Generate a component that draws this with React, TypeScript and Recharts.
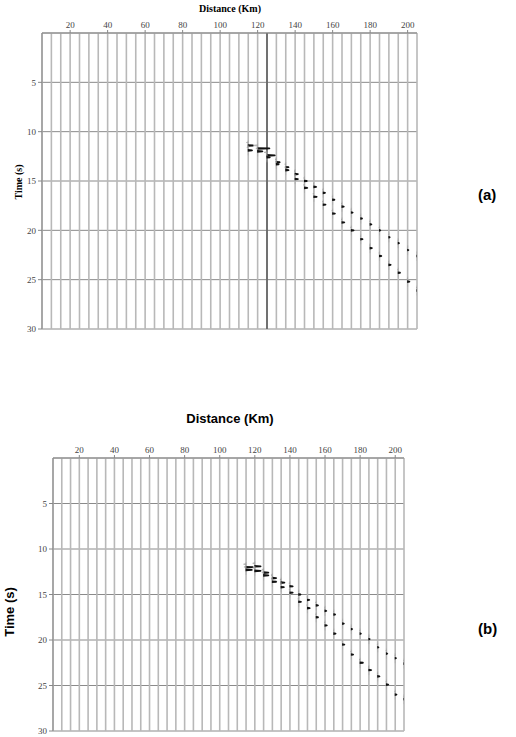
import React from "react";
import {
  ScatterChart,
  Scatter,
  XAxis,
  YAxis,
  CartesianGrid,
  ReferenceLine,
} from "recharts";

// trace offsets (km) where arrivals were picked
const distanceKm = [115, 120, 125, 130, 135, 140, 145, 150, 155, 160, 165, 170, 175, 180, 185, 190, 195, 200, 205];

// panel (a): two arrival branches, time (s) and wiggle amplitude (px)
const aFirstTime = [11.4, 11.7, 12.4, 13.1, 13.6, 14.3, 15.0, 15.6, 16.2, 16.9, 17.6, 18.2, 18.8, 19.4, 20.0, 20.7, 21.3, 22.0, 22.6];
const aSecondTime = [11.9, 12.0, 12.6, 13.3, 13.9, 14.8, 15.7, 16.6, 17.4, 18.3, 19.2, 20.0, 20.9, 21.8, 22.6, 23.5, 24.3, 25.2, 26.1];
const aFirstAmp = [5, 12, 8, 3.5, 3, 3, 2.5, 2.5, 2, 2, 2, 1.5, 1.5, 1.5, 1, 1, 1, 1, 1];
const aSecondAmp = [4, 5, 3, 2.5, 3, 3, 3, 3, 2.5, 2.5, 2.5, 2.5, 2, 2, 2, 2, 2, 2, 2.5];

// panel (b)
const bFirstTime = [12.0, 11.9, 12.6, 13.2, 13.7, 14.1, 15.0, 15.6, 16.2, 16.8, 17.2, 18.2, 18.8, 19.3, 19.9, 20.8, 21.5, 22.0, 22.6];
const bSecondTime = [12.3, 12.4, 12.9, 13.6, 14.2, 14.8, 15.8, 16.5, 17.5, 18.4, 19.3, 20.5, 21.6, 22.5, 23.3, 24.0, 24.9, 26.0, 26.5];
const bFirstAmp = [7, 6, 5, 4, 3.5, 3, 2, 2, 2, 1.5, 1.5, 1.5, 1, 1, 1, 1, 1, 1, 1];
const bSecondAmp = [6, 6, 5, 4, 3, 3, 2.5, 2.5, 2, 2, 2, 2, 2, 3, 2.5, 2, 2, 1.5, 1];

const xTicks = [20, 40, 60, 80, 100, 120, 140, 160, 180, 200];
const yTicks = [5, 10, 15, 20, 25, 30];
const gridKm = [5, 10, 15, 20, 25, 30, 35, 40, 45, 50, 55, 60, 65, 70, 75, 80, 85, 90, 95, 100, 105, 110, 115, 120, 125, 130, 135, 140, 145, 150, 155, 160, 165, 170, 175, 180, 185, 190, 195, 200, 205];

type Pick = { km: number; t: number; amp: number };

function picks(times: number[], amps: number[]): Pick[] {
  return distanceKm.map((km, i) => ({ km, t: times[i], amp: amps[i] }));
}

// one seismic wiggle: thin trace plus a filled positive lobe
function Wiggle(props: any) {
  const { cx, cy, payload } = props;
  if (cx == null || cy == null) return null;
  const a = payload.amp;
  return (
    <g>
      <line x1={cx} y1={cy - 5} x2={cx} y2={cy + 5} stroke="#aaa" strokeWidth={0.7} />
      <path
        d={`M${cx - 0.5},${cy - 1.3} L${cx + a},${cy - 0.9} L${cx + a + 0.8},${cy} L${cx + a},${cy + 0.9} L${cx - 0.5},${cy + 1.3} Z`}
        fill="#111"
      />
      <path
        d={`M${cx},${cy - 3.5} Q${cx - a * 0.7},${cy - 3} ${cx},${cy - 2.5}`}
        fill="none"
        stroke="#999"
        strokeWidth={0.7}
      />
    </g>
  );
}

const tickStyle = { fontFamily: "Liberation Serif", fontSize: 9, fill: "#444" };

function Panel(props: {
  width: number;
  height: number;
  margin: { top: number; right: number; bottom: number; left: number };
  first: Pick[];
  second: Pick[];
  marker?: boolean;
}) {
  const { width, height, margin, first, second, marker } = props;
  return (
    <ScatterChart width={width} height={height} margin={margin}>
      <CartesianGrid vertical={false} stroke="#8a8a8a" strokeWidth={1} />
      {gridKm.map((km) => (
        <ReferenceLine key={km} x={km} stroke="#b8b8b8" strokeWidth={1.6} ifOverflow="visible" />
      ))}
      <XAxis
        type="number"
        dataKey="km"
        orientation="top"
        domain={[5, 205]}
        ticks={xTicks}
        allowDataOverflow
        height={20}
        tick={tickStyle}
        tickSize={3}
        stroke="#888"
      />
      <YAxis
        type="number"
        dataKey="t"
        reversed
        domain={[0, 30]}
        ticks={yTicks}
        allowDataOverflow
        width={30}
        tick={tickStyle}
        tickSize={4}
        stroke="#888"
      />
      {marker && <ReferenceLine x={125} stroke="#555" strokeWidth={1.5} />}
      <Scatter data={first} shape={Wiggle} isAnimationActive={false} />
      <Scatter data={second} shape={Wiggle} isAnimationActive={false} />
    </ScatterChart>
  );
}

const abs = (left: number, top: number): React.CSSProperties => ({ position: "absolute", left, top });

export default function App() {
  return (
    <div style={{ position: "absolute", left: 0, top: 0, width: 516, height: 737, background: "#fff" }}>
      <div style={abs(0, 0)}>
        <Panel
          width={440}
          height={340}
          margin={{ top: 13, right: 23, bottom: 11, left: 12 }}
          first={picks(aFirstTime, aFirstAmp)}
          second={picks(aSecondTime, aSecondAmp)}
          marker
        />
      </div>
      <div
        style={{
          ...abs(180, 3),
          width: 100,
          textAlign: "center",
          fontFamily: "Liberation Serif",
          fontWeight: "bold",
          fontSize: 10,
        }}
      >
        Distance (Km)
      </div>
      <div
        style={{
          position: "absolute",
          left: 18,
          top: 182,
          transform: "translate(-50%, -50%) rotate(-90deg)",
          fontFamily: "Liberation Serif",
          fontWeight: "bold",
          fontSize: 10,
          whiteSpace: "nowrap",
        }}
      >
        Time (s)
      </div>
      <div style={{ ...abs(478, 186), fontFamily: "Liberation Sans", fontWeight: "bold", fontSize: 15 }}>(a)</div>

      <div style={abs(0, 400)}>
        <Panel
          width={430}
          height={337}
          margin={{ top: 38, right: 26, bottom: 6, left: 23 }}
          first={picks(bFirstTime, bFirstAmp)}
          second={picks(bSecondTime, bSecondAmp)}
        />
      </div>
      <div
        style={{
          ...abs(160, 411),
          width: 140,
          textAlign: "center",
          fontFamily: "Liberation Sans",
          fontWeight: "bold",
          fontSize: 13,
        }}
      >
        Distance (Km)
      </div>
      <div
        style={{
          position: "absolute",
          left: 9,
          top: 612,
          transform: "translate(-50%, -50%) rotate(-90deg)",
          fontFamily: "Liberation Sans",
          fontWeight: "bold",
          fontSize: 13,
          whiteSpace: "nowrap",
        }}
      >
        Time (s)
      </div>
      <div style={{ ...abs(478, 620), fontFamily: "Liberation Sans", fontWeight: "bold", fontSize: 15 }}>(b)</div>
    </div>
  );
}
